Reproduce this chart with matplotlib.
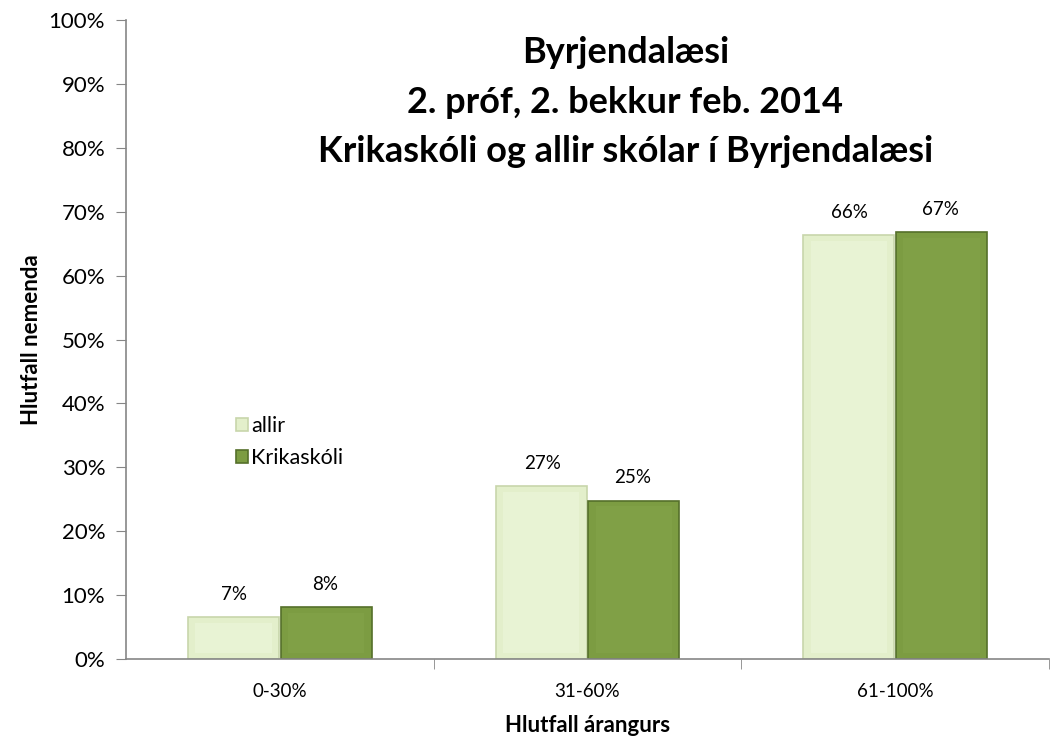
import matplotlib.pyplot as plt
import numpy as np
from matplotlib.patches import Rectangle

plt.rcParams['font.family'] = ['Lato', 'DejaVu Sans']

categories = ['0-30%', '31-60%', '61-100%']
allir = [6.6, 27.0, 66.3]
krikaskoli = [8.1, 24.8, 66.8]
allir_labels = ['7%', '27%', '66%']
krik_labels = ['8%', '25%', '67%']
yticks = [0, 10, 20, 30, 40, 50, 60, 70, 80, 90, 100]

c_allir = '#e3efcb'
c_allir_edge = '#c8d6ab'
c_krik = '#7c9c42'
c_krik_edge = '#55702a'

fig = plt.figure(figsize=(10.57, 7.36), dpi=100)
ax = fig.add_axes([0.1192, 0.1046, 0.8732, 0.8682])

x = np.arange(len(categories))
w = 0.295


def bevel_bars(xpos, vals, face, edge, inner):
    bars = ax.bar(xpos, vals, w, color=face, edgecolor=edge, linewidth=1.2, zorder=2)
    for b in bars:
        bx, by = b.get_x(), b.get_y()
        bw, bh = b.get_width(), b.get_height()
        ix = bw * 0.08
        iy = min(0.9, bh * 0.2)
        ax.add_patch(Rectangle((bx + ix, by + iy), bw - 2 * ix, bh - 2 * iy,
                               facecolor=inner, edgecolor='none', zorder=3))
    return bars


b1 = bevel_bars(x - w / 2 - 0.003, allir, c_allir, c_allir_edge, '#e8f3d4')
b2 = bevel_bars(x + w / 2 + 0.003, krikaskoli, c_krik, c_krik_edge, '#80a046')

for xi, v, lab in zip(x - w / 2, allir, allir_labels):
    ax.text(xi, v + 2.2, lab, ha='center', va='bottom', fontsize=13.5)
for xi, v, lab in zip(x + w / 2, krikaskoli, krik_labels):
    ax.text(xi, v + 2.2, lab, ha='center', va='bottom', fontsize=13.5)

ax.set_xlim(-0.5, 2.5)
ax.set_ylim(0, 100)
ax.set_yticks(yticks)
ax.set_yticklabels([f'{t}%' for t in yticks], fontsize=16)
ax.set_xticks(x)
ax.set_xticklabels(categories, fontsize=13.5)
ax.tick_params(axis='x', length=0, pad=17)
ax.set_xticks([0.5, 1.5, 2.5], minor=True)
ax.tick_params(axis='x', which='minor', length=7, color='#868686')
ax.tick_params(axis='y', length=7, color='#868686', pad=8)

for s in ['top', 'right']:
    ax.spines[s].set_visible(False)
for s in ['left', 'bottom']:
    ax.spines[s].set_color('#868686')
    ax.spines[s].set_linewidth(1.2)

ax.set_ylabel('Hlutfall nemenda', fontsize=16, fontweight='bold', labelpad=5)
ax.set_xlabel('Hlutfall árangurs', fontsize=16, fontweight='bold', labelpad=11)

ax.text(0.541, 0.975, 'Byrjendalæsi\n2. próf, 2. bekkur feb. 2014\nKrikaskóli og allir skólar í Byrjendalæsi',
        transform=ax.transAxes, ha='center', va='top', fontsize=26,
        fontweight='bold', linespacing=1.62)

leg = ax.legend([b1, b2], ['allir', 'Krikaskóli'], loc='upper left',
                bbox_to_anchor=(0.098, 0.41), frameon=False, fontsize=15.5,
                handlelength=0.55, handleheight=0.55, handletextpad=0.15,
                labelspacing=0.55)

fig.savefig('out.png', dpi=100)
